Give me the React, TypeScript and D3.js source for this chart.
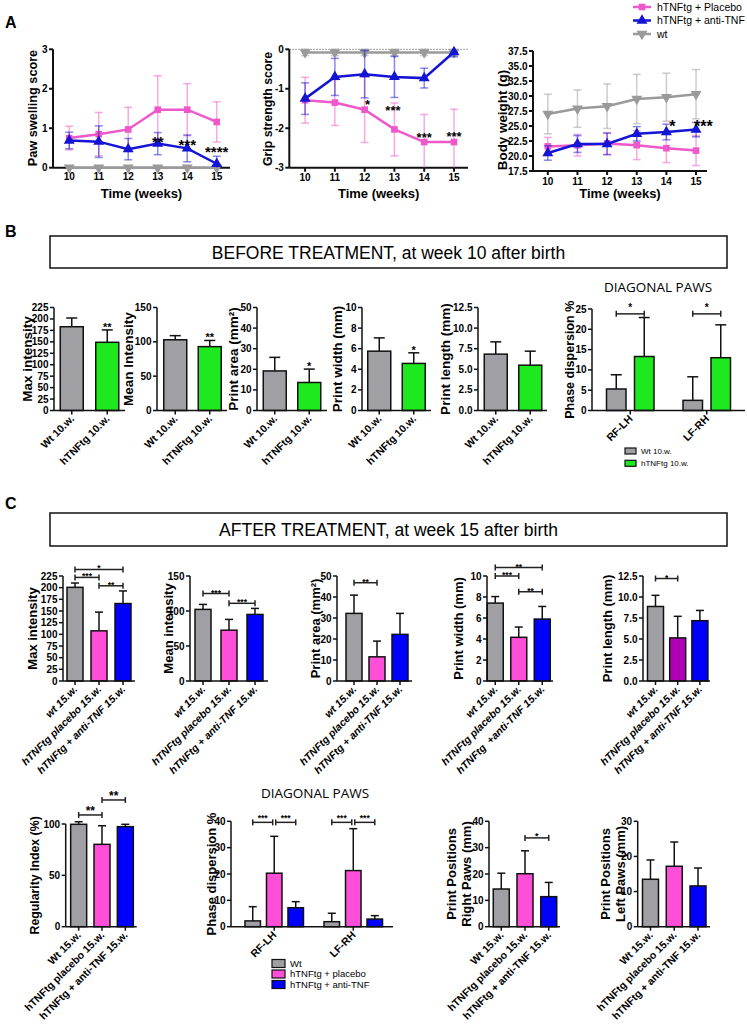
import React from "react";
import * as d3 from "d3";

const FONT = "'Liberation Sans', Arial, Helvetica, sans-serif";
const INK = "#111";
const PINK_LINE = "#EE58CB";
const BLUE_LINE = "#1414D4";
const GRAY_LINE = "#9A9A9A";
const GRAY = "#A0A0A4";
const GREEN = "#1EE81E";
const PINK = "#FF4FD8";
const BLUE = "#0000FF";
const PURPLE = "#B000B6";

// ---------- panel A: time course ----------
const weeks = [10, 11, 12, 13, 14, 15];
const lineLegend = ["hTNFtg + Placebo", "hTNFtg + anti-TNF", "wt"];

const pawPlacebo = [0.75, 0.85, 0.97, 1.47, 1.47, 1.16];
const pawPlaceboErr = [0.3, 0.55, 0.56, 0.86, 0.66, 0.51];
const pawAnti = [0.69, 0.66, 0.47, 0.61, 0.49, 0.1];
const pawAntiErr = [0.21, 0.4, 0.27, 0.28, 0.34, 0.19];
const pawWt = [0, 0, 0, 0, 0, 0];
const pawWtErr = [0, 0, 0, 0, 0, 0];
const pawSigWeeks = [13, 14, 15];
const pawSigAt = [0.53, 0.46, 0.28];
const pawSigLabels = ["**", "***", "****"];

const gripPlacebo = [-1.29, -1.35, -1.53, -2.03, -2.35, -2.35];
const gripPlaceboErr = [0.58, 0.58, 0.83, 0.67, 0.7, 0.83];
const gripAnti = [-1.25, -0.7, -0.63, -0.7, -0.73, -0.07];
const gripAntiErr = [0.4, 0.47, 0.6, 0.52, 0.25, 0.12];
const gripWt = [-0.08, -0.08, -0.08, -0.08, -0.08, -0.08];
const gripWtErr = [0.08, 0.08, 0.08, 0.08, 0.08, 0.08];
const gripSigWeeks = [12.1, 12.95, 14, 15];
const gripSigAt = [-1.51, -1.67, -2.36, -2.33];
const gripSigLabels = ["*", "***", "***", "***"];

const weightPlacebo = [21.6, 21.8, 22.1, 21.8, 21.3, 20.9];
const weightPlaceboErr = [1.5, 1.8, 1.8, 2.4, 2.4, 2.5];
const weightAnti = [20.5, 22.0, 22.0, 23.7, 24.0, 24.4];
const weightAntiErr = [1.2, 1.4, 1.8, 1.2, 1.3, 1.2];
const weightWt = [27.0, 27.9, 28.3, 29.5, 29.8, 30.3];
const weightWtErr = [3.3, 3.1, 3.7, 4.1, 4.0, 4.1];
const weightSigWeeks = [14.2, 15.25];
const weightSigAt = [24.0, 24.0];
const weightSigLabels = ["*", "***"];

// ---------- panel B: before treatment ----------
const beforeGroups = ["Wt 10.w.", "hTNFtg 10.w."];
const beforeMaxIntensity = [183, 149];
const beforeMaxIntensityErr = [19, 27];
const beforeMeanIntensity = [103, 93];
const beforeMeanIntensityErr = [6, 9];
const beforePrintArea = [19.2, 13.6];
const beforePrintAreaErr = [6.6, 6.5];
const beforePrintWidth = [5.76, 4.57];
const beforePrintWidthErr = [1.29, 1.03];
const beforePrintLength = [6.84, 5.5];
const beforePrintLengthErr = [1.49, 1.7];
const beforeStarsMax = ["", "**"];
const beforeStarsMean = ["", "**"];
const beforeStarsArea = ["", "*"];
const beforeStarsWidth = ["", "*"];

const diagonalPairs = ["RF-LH", "LF-RH"];
const beforeDiagWt = [5.3, 2.5];
const beforeDiagWtErr = [3.5, 5.8];
const beforeDiagTg = [13.3, 13.0];
const beforeDiagTgErr = [9.6, 8.1];
const beforeDiagBrackets: [number, number, number, number, string][] = [
  [0, 0, 1, 23.8, "*"],
  [1, 0, 1, 23.8, "*"],
];

// ---------- panel C: after treatment ----------
const afterGroups = ["wt 15.w.", "hTNFtg placebo 15.w.", "hTNFtg + anti-TNF 15.w."];
const afterGroupsWidth = ["wt 15.w.", "hTNFtg placebo 15.w.", "hTNFtg  +anti-TNF 15.w."];
const afterGroupsRow2 = ["Wt 15.w.", "hTNFtg placebo 15.w.", "hTNFtg + anti-TNF 15.w."];

const afterMaxIntensity = [200.7, 107.5, 166];
const afterMaxIntensityErr = [9.3, 40.1, 27];
const afterMaxBrackets: [number, number, number, string][] = [
  [0, 2, 239, "*"], [0, 1, 222, "***"], [1, 2, 204, "**"],
];
const afterMeanIntensity = [102.3, 72.6, 95.1];
const afterMeanIntensityErr = [7.1, 15.4, 8.6];
const afterMeanBrackets: [number, number, number, string][] = [
  [0, 1, 125, "***"], [1, 2, 111, "***"],
];
const afterPrintArea = [32.2, 11.5, 22.2];
const afterPrintAreaErr = [8.7, 7.5, 10];
const afterAreaBrackets: [number, number, number, string][] = [[0, 1, 46.8, "**"]];
const afterPrintWidth = [7.42, 4.16, 5.9];
const afterPrintWidthErr = [0.62, 0.98, 1.2];
const afterWidthBrackets: [number, number, number, string][] = [
  [0, 2, 10.8, "**"], [0, 1, 10.0, "***"], [1, 2, 8.5, "**"],
];
const afterPrintLength = [8.87, 5.13, 7.18];
const afterPrintLengthErr = [1.33, 2.57, 1.22];
const afterLengthBrackets: [number, number, number, string][] = [[0, 1, 12.2, "*"]];

const afterRegularity = [99.7, 80.2, 97.4];
const afterRegularityErr = [2.5, 18.1, 2.3];
const afterRegularityBrackets: [number, number, number, string][] = [
  [0, 1, 108.8, "**"], [1, 2, 123.4, "**"],
];
const afterDiagWt = [2.2, 1.9];
const afterDiagWtErr = [5.4, 3.2];
const afterDiagPlacebo = [20.3, 21.3];
const afterDiagPlaceboErr = [14.0, 15.9];
const afterDiagAnti = [7.2, 2.9];
const afterDiagAntiErr = [2.3, 1.3];
const afterDiagBrackets: [number, number, number, number, string][] = [
  [0, 0, 1, 39.6, "***"], [0, 1, 2, 39.6, "***"],
  [1, 0, 1, 39.6, "***"], [1, 1, 2, 39.6, "***"],
];
const afterRightPaws = [14.3, 20.1, 11.4];
const afterRightPawsErr = [6.0, 8.7, 5.4];
const afterRightBrackets: [number, number, number, string][] = [[1, 2, 33.7, "*"]];
const afterLeftPaws = [13.5, 17.2, 11.6];
const afterLeftPawsErr = [5.5, 6.9, 5.1];

const beforeLegend = ["Wt 10.w.", "hTNFtg 10.w."];
const afterLegend = ["Wt", "hTNFtg + placebo", "hTNFtg + anti-TNF"];

// ---------- helpers ----------
const range = (a: number, b: number, s: number) => d3.range(a, b + s / 2, s);
const fmtInt = (d: number) => String(Math.round(d));
const fmt1 = d3.format(".1f");

function YAxis({ x, y, ticks, fmt, w = 1.5 }: any) {
  const y0 = y(ticks[0]);
  const y1 = y(ticks[ticks.length - 1]);
  return (
    <g>
      <line x1={x} x2={x} y1={y1} y2={y0} stroke={INK} strokeWidth={w} />
      {ticks.map((t: number) => (
        <g key={t}>
          <line x1={x - 4} x2={x} y1={y(t)} y2={y(t)} stroke={INK} strokeWidth={w} />
          <text x={x - 5.5} y={y(t)} dy="0.35em" textAnchor="end" fontSize={10} fontWeight="bold">
            {fmt(t)}
          </text>
        </g>
      ))}
    </g>
  );
}

function YLabel({ lines, xs, cy, size }: any) {
  return (
    <g>
      {lines.map((l: string, i: number) => (
        <text
          key={i}
          transform={`translate(${xs[i]},${cy}) rotate(-90)`}
          dy="0.35em"
          textAnchor="middle"
          fontSize={size}
          fontWeight="bold"
        >
          {l}
        </text>
      ))}
    </g>
  );
}

function symbolPath(kind: string) {
  if (kind === "square") return d3.symbol().type(d3.symbolSquare).size(44)()!;
  return d3.symbol().type(d3.symbolTriangle).size(52)()!;
}

function LineChart({ c }: any) {
  const x = d3.scaleLinear().domain(c.xDomain).range([c.ax, c.axEnd]);
  const y = d3.scaleLinear().domain(c.yDomain).range([c.yBot, c.yTop]);
  const cl = (v: number) => y(Math.max(c.yDomain[0], Math.min(c.yDomain[1], v)));
  const line = d3.line<number>().x((_, i) => x(weeks[i])).y((d) => y(d));
  return (
    <g>
      {c.zeroLine && (
        <line x1={c.ax} x2={c.axEnd} y1={y(0)} y2={y(0)} stroke="#9a9a9a" strokeWidth={1.3} strokeDasharray="1.5 1.5" />
      )}
      <YAxis x={c.ax} y={y} ticks={c.ticks} fmt={c.fmt} w={2} />
      <line x1={c.ax} x2={c.axEnd} y1={c.yBot} y2={c.yBot} stroke={INK} strokeWidth={2} />
      {weeks.map((w) => (
        <g key={w}>
          <line x1={x(w)} x2={x(w)} y1={c.yBot} y2={c.yBot + 4} stroke={INK} strokeWidth={2} />
          <text x={x(w)} y={c.tickBase} textAnchor="middle" fontSize={10} fontWeight="bold">
            {w}
          </text>
        </g>
      ))}
      {c.series.map((s: any, si: number) => (
        <g key={si}>
          {s.v.map((v: number, i: number) =>
            s.e[i] > 0 ? (
              <g key={i} stroke={s.color} strokeOpacity={0.5} strokeWidth={1.5}>
                <line x1={x(weeks[i])} x2={x(weeks[i])} y1={cl(v - s.e[i])} y2={cl(v + s.e[i])} />
                {v + s.e[i] <= c.yDomain[1] && (
                  <line x1={x(weeks[i]) - 4} x2={x(weeks[i]) + 4} y1={y(v + s.e[i])} y2={y(v + s.e[i])} />
                )}
                {v - s.e[i] >= c.yDomain[0] && (
                  <line x1={x(weeks[i]) - 4} x2={x(weeks[i]) + 4} y1={y(v - s.e[i])} y2={y(v - s.e[i])} />
                )}
              </g>
            ) : null
          )}
          <path d={line(s.v)!} fill="none" stroke={s.color} strokeWidth={2.5} />
          {s.v.map((v: number, i: number) => (
            <path
              key={i}
              d={symbolPath(s.sym)}
              transform={`translate(${x(weeks[i])},${y(v)})${s.sym === "down" ? " rotate(180)" : ""}`}
              fill={s.color}
            />
          ))}
        </g>
      ))}
      {c.sigWeeks.map((w: number, i: number) => (
        <text key={i} x={x(w)} y={y(c.sigAt[i])} textAnchor="middle" fontSize={c.sigSize} fontWeight="bold">
          {c.sigLabels[i]}
        </text>
      ))}
      <YLabel lines={[c.label]} xs={[c.labelX]} cy={c.labelCy} size={c.labelSize} />
      <text x={(c.ax + c.axEnd) / 2} y={198} textAnchor="middle" fontSize={13} fontWeight="bold">
        Time (weeks)
      </text>
    </g>
  );
}

function Bracket({ x1, x2, yv, label, size, dy }: any) {
  return (
    <g>
      <line x1={x1} x2={x2} y1={yv} y2={yv} stroke="#222" strokeWidth={1.5} />
      <line x1={x1} x2={x1} y1={yv - 3} y2={yv + 3} stroke="#222" strokeWidth={1.5} />
      <line x1={x2} x2={x2} y1={yv - 3} y2={yv + 3} stroke="#222" strokeWidth={1.5} />
      <text x={(x1 + x2) / 2} y={yv + dy} textAnchor="middle" fontSize={size} fontWeight="bold">
        {label}
      </text>
    </g>
  );
}

function XLabels({ xs, labels, yBot, italic }: any) {
  return (
    <g>
      {labels.map((l: string, i: number) => (
        <text
          key={i}
          transform={`translate(${xs[i] + 3},${yBot + 9}) rotate(-45)`}
          textAnchor="end"
          fontSize={10.5}
          fontWeight="bold"
          fontStyle={italic ? "italic" : "normal"}
          style={{ whiteSpace: "pre" }}
        >
          {l}
        </text>
      ))}
    </g>
  );
}

function BarChart({ c }: any) {
  const y = d3.scaleLinear().domain([0, c.max]).range([c.yBot, c.yTop]);
  const idx = d3.range(c.values.length);
  const x = d3.scalePoint<number>().domain(idx).range(c.band).padding(0.5);
  const xs = idx.map((i) => x(i)!);
  return (
    <g>
      {c.values.map((v: number, i: number) => {
        const top = y(v);
        const et = y(v + c.errs[i]);
        return (
          <g key={i}>
            <line x1={xs[i]} x2={xs[i]} y1={top} y2={et} stroke={INK} strokeWidth={1.5} />
            <line x1={xs[i] - c.capW / 2} x2={xs[i] + c.capW / 2} y1={et} y2={et} stroke={INK} strokeWidth={1.5} />
            <rect x={xs[i] - c.barW / 2} y={top} width={c.barW} height={c.yBot - top} fill={c.colors[i]} stroke={INK} strokeWidth={1.5} />
            {c.stars && c.stars[i] && (
              <text x={xs[i]} y={et + 1} textAnchor="middle" fontSize={11} fontWeight="bold">
                {c.stars[i]}
              </text>
            )}
          </g>
        );
      })}
      <YAxis x={c.ax} y={y} ticks={c.ticks} fmt={c.fmt} />
      <line x1={c.ax} x2={c.axEnd} y1={c.yBot} y2={c.yBot} stroke={INK} strokeWidth={1.5} />
      {xs.map((px, i) => (
        <line key={i} x1={px} x2={px} y1={c.yBot} y2={c.yBot + 4} stroke={INK} strokeWidth={1.5} />
      ))}
      {(c.brackets || []).map((b: any, k: number) => (
        <Bracket key={k} x1={xs[b[0]]} x2={xs[b[1]]} yv={y(b[2])} label={b[3]} size={c.bSize} dy={c.bDy} />
      ))}
      <XLabels xs={xs} labels={c.labels} yBot={c.yBot} italic={c.italic} />
      <YLabel lines={c.ylabel} xs={c.labelX} cy={(c.yTop + c.yBot) / 2} size={c.labelSize} />
    </g>
  );
}

function GroupChart({ c }: any) {
  const y = d3.scaleLinear().domain([0, c.max]).range([c.yBot, c.yTop]);
  const x = d3.scalePoint<string>().domain(c.groups).range(c.band).padding(0.5);
  const bx = (g: number, s: number) => x(c.groups[g])! + c.offsets[s];
  return (
    <g>
      {c.groups.map((g: string, gi: number) =>
        c.series.map((ser: number[], si: number) => {
          const cx = bx(gi, si);
          const top = y(ser[gi]);
          const et = y(ser[gi] + c.errs[si][gi]);
          return (
            <g key={g + si}>
              <line x1={cx} x2={cx} y1={top} y2={et} stroke={INK} strokeWidth={1.5} />
              <line x1={cx - c.capW / 2} x2={cx + c.capW / 2} y1={et} y2={et} stroke={INK} strokeWidth={1.5} />
              <rect x={cx - c.barW / 2} y={top} width={c.barW} height={c.yBot - top} fill={c.colors[si]} stroke={INK} strokeWidth={1.5} />
            </g>
          );
        })
      )}
      <YAxis x={c.ax} y={y} ticks={c.ticks} fmt={fmtInt} />
      <line x1={c.ax} x2={c.axEnd} y1={c.yBot} y2={c.yBot} stroke={INK} strokeWidth={1.5} />
      {c.groups.map((g: string) => (
        <line key={g} x1={x(g)!} x2={x(g)!} y1={c.yBot} y2={c.yBot + 4} stroke={INK} strokeWidth={1.5} />
      ))}
      {c.brackets.map((b: any, k: number) => {
        const gap = c.series.length > 2 ? 1.5 : 0;
        return (
          <Bracket
            key={k}
            x1={bx(b[0], b[1]) + (b[1] > 0 ? gap : 0)}
            x2={bx(b[0], b[2]) - (b[2] < c.series.length - 1 ? gap : 0)}
            yv={y(b[3])}
            label={b[4]}
            size={c.bSize}
            dy={c.bDy}
          />
        );
      })}
      <XLabels xs={c.groups.map((g: string) => x(g)!)} labels={c.groups} yBot={c.yBot} />
      <YLabel lines={[c.ylabel]} xs={[c.labelX]} cy={(c.yTop + c.yBot) / 2} size={c.labelSize} />
      <text x={c.titleX} y={c.titleY} textAnchor="middle" fontSize={13.5} fontFamily="'Open Sans', 'Noto Sans', sans-serif">
        DIAGONAL PAWS
      </text>
      {c.legend.map((l: string, i: number) => (
        <g key={l}>
          <rect x={c.legX} y={c.legY + i * c.legDy - c.legH / 2} width={c.legW} height={c.legH} fill={c.colors[i]} stroke={INK} strokeWidth={1.2} />
          <text x={c.legX + c.legW + 5} y={c.legY + i * c.legDy} dy="0.35em" fontSize={c.legSize}>
            {l}
          </text>
        </g>
      ))}
    </g>
  );
}

function Header({ y, h, text }: any) {
  return (
    <g>
      <rect x={50} y={y} width={677} height={h} fill="none" stroke={INK} strokeWidth={1.5} />
      <text x={388.5} y={y + 22.5} textAnchor="middle" fontSize={17.5}>
        {text}
      </text>
    </g>
  );
}

export default function App() {
  const lineCharts = [
    {
      ax: 53, axEnd: 230, xDomain: [9.45, 15.45], yTop: 49.3, yBot: 167.7, yDomain: [0, 3],
      ticks: [0, 1, 2, 3], fmt: fmtInt, label: "Paw swelling score", labelX: 33, labelCy: 108, labelSize: 12.7,
      tickBase: 180,
      sigWeeks: pawSigWeeks, sigAt: pawSigAt, sigLabels: pawSigLabels, sigSize: 15,
      series: [
        { v: pawWt, e: pawWtErr, color: GRAY_LINE, sym: "down" },
        { v: pawPlacebo, e: pawPlaceboErr, color: PINK_LINE, sym: "square" },
        { v: pawAnti, e: pawAntiErr, color: BLUE_LINE, sym: "up" },
      ],
    },
    {
      ax: 289.3, axEnd: 468, xDomain: [9.47, 15.47], yTop: 49.3, yBot: 167.7, yDomain: [-3, 0],
      ticks: [-3, -2, -1, 0], fmt: fmtInt, label: "Grip strength score", labelX: 268, labelCy: 109, labelSize: 12.3,
      tickBase: 180.5, zeroLine: true,
      sigWeeks: gripSigWeeks, sigAt: gripSigAt, sigLabels: gripSigLabels, sigSize: 13,
      series: [
        { v: gripWt, e: gripWtErr, color: GRAY_LINE, sym: "down" },
        { v: gripPlacebo, e: gripPlaceboErr, color: PINK_LINE, sym: "square" },
        { v: gripAnti, e: gripAntiErr, color: BLUE_LINE, sym: "up" },
      ],
    },
    {
      ax: 533, axEnd: 707, xDomain: [9.5, 15.37], yTop: 51, yBot: 171, yDomain: [17.5, 37.5],
      ticks: range(17.5, 37.5, 2.5), fmt: fmt1, label: "Body weight (g)", labelX: 502, labelCy: 120, labelSize: 13.4,
      tickBase: 185,
      sigWeeks: weightSigWeeks, sigAt: weightSigAt, sigLabels: weightSigLabels, sigSize: 16,
      series: [
        { v: weightWt, e: weightWtErr, color: GRAY_LINE, sym: "down" },
        { v: weightPlacebo, e: weightPlaceboErr, color: PINK_LINE, sym: "square" },
        { v: weightAnti, e: weightAntiErr, color: BLUE_LINE, sym: "up" },
      ],
    },
  ];

  const B = { yTop: 307.5, yBot: 410.5, barW: 23, capW: 11, labelSize: 13.5, labels: beforeGroups, colors: [GRAY, GREEN] };
  const beforeCharts = [
    { ...B, ax: 54, axEnd: 125, band: [54, 125], max: 225, ticks: range(0, 225, 25), fmt: fmtInt,
      values: beforeMaxIntensity, errs: beforeMaxIntensityErr, stars: beforeStarsMax, ylabel: ["Max intensity"], labelX: [27] },
    { ...B, ax: 157, axEnd: 227, band: [158, 227], max: 150, ticks: [0, 50, 100, 150], fmt: fmtInt,
      values: beforeMeanIntensity, errs: beforeMeanIntensityErr, stars: beforeStarsMean, ylabel: ["Mean Intensity"], labelX: [128] },
    { ...B, ax: 257, axEnd: 327, band: [257.5, 326.5], max: 50, ticks: range(0, 50, 10), fmt: fmtInt,
      values: beforePrintArea, errs: beforePrintAreaErr, stars: beforeStarsArea, ylabel: ["Print area (mm\u00b2)"], labelX: [233] },
    { ...B, ax: 362, axEnd: 431, band: [362, 431], max: 10, ticks: range(0, 10, 2), fmt: fmtInt,
      values: beforePrintWidth, errs: beforePrintWidthErr, stars: beforeStarsWidth, ylabel: ["Print width (mm)"], labelX: [337] },
    { ...B, ax: 478, axEnd: 547, band: [478.5, 547.5], max: 12.5, ticks: range(0, 12.5, 2.5), fmt: fmt1,
      values: beforePrintLength, errs: beforePrintLengthErr, ylabel: ["Print length (mm)"], labelX: [445] },
  ];

  const beforeDiag = {
    groups: diagonalPairs, series: [beforeDiagWt, beforeDiagTg], errs: [beforeDiagWtErr, beforeDiagTgErr],
    colors: [GRAY, GREEN], offsets: [-14, 14], barW: 19.5, capW: 11,
    ax: 592, axEnd: 745, band: [592, 745], yTop: 309, yBot: 410.5, max: 25, ticks: range(0, 25, 5),
    ylabel: "Phase dispersion %", labelX: 570, labelSize: 12.5, brackets: beforeDiagBrackets, bSize: 10, bDy: -3,
    titleX: 658, titleY: 292, legend: beforeLegend, legX: 625, legY: 451, legDy: 12.3, legW: 11, legH: 6, legSize: 8,
  };

  const C1 = { yTop: 576, yBot: 681, barW: 16, capW: 8, labelSize: 13, labels: afterGroups, italic: true,
    colors: [GRAY, PINK, BLUE], bSize: 8.5, bDy: 2 };
  const afterRow1 = [
    { ...C1, ax: 63, axEnd: 135, band: [63, 135], max: 225, ticks: range(0, 225, 25), fmt: fmtInt,
      values: afterMaxIntensity, errs: afterMaxIntensityErr, brackets: afterMaxBrackets, ylabel: ["Max intensity"], labelX: [32] },
    { ...C1, ax: 190, axEnd: 268, band: [190, 268], max: 150, ticks: [0, 50, 100, 150], fmt: fmtInt,
      values: afterMeanIntensity, errs: afterMeanIntensityErr, brackets: afterMeanBrackets, ylabel: ["Mean intensity"], labelX: [168] },
    { ...C1, ax: 337, axEnd: 412, band: [342.5, 411.5], max: 50, ticks: range(0, 50, 10), fmt: fmtInt,
      values: afterPrintArea, errs: afterPrintAreaErr, brackets: afterAreaBrackets, ylabel: ["Print area (mm\u00b2)"], labelX: [315] },
    { ...C1, ax: 487, axEnd: 553, band: [483.5, 554], max: 10, ticks: range(0, 10, 2), fmt: fmtInt, labels: afterGroupsWidth,
      values: afterPrintWidth, errs: afterPrintWidthErr, brackets: afterWidthBrackets, ylabel: ["Print width (mm)"], labelX: [458] },
    { ...C1, ax: 643, axEnd: 710, band: [644.4, 711], max: 12.5, ticks: range(0, 12.5, 2.5), fmt: fmt1,
      colors: [GRAY, PURPLE, BLUE],
      values: afterPrintLength, errs: afterPrintLengthErr, brackets: afterLengthBrackets, ylabel: ["Print length (mm)"], labelX: [607] },
  ];

  const C2 = { yBot: 926.7, barW: 16, capW: 8, labelSize: 13, labels: afterGroupsRow2, colors: [GRAY, PINK, BLUE], bSize: 9, bDy: 1 };
  const afterRow2 = [
    { ...C2, ax: 65.7, axEnd: 136.7, band: [67, 137], yTop: 824, max: 100, ticks: [0, 50, 100], fmt: fmtInt,
      values: afterRegularity, errs: afterRegularityErr, brackets: afterRegularityBrackets, bSize: 12, bDy: 0,
      ylabel: ["Regularity Index (%)"], labelX: [35], labelSize: 12.3 },
    { ...C2, ax: 489, axEnd: 560, band: [489.4, 560.6], yTop: 821.3, max: 40, ticks: range(0, 40, 10), fmt: fmtInt,
      values: afterRightPaws, errs: afterRightPawsErr, brackets: afterRightBrackets,
      ylabel: ["Print Positions", "Right Paws (mm)"], labelX: [451.7, 466] },
    { ...C2, ax: 637.7, axEnd: 710, band: [638.6, 709.9], yTop: 821.3, max: 30, ticks: range(0, 30, 10), fmt: fmtInt,
      values: afterLeftPaws, errs: afterLeftPawsErr,
      ylabel: ["Print Positions", "Left Paws (mm)"], labelX: [605, 620] },
  ];

  const afterDiag = {
    groups: diagonalPairs, series: [afterDiagWt, afterDiagPlacebo, afterDiagAnti],
    errs: [afterDiagWtErr, afterDiagPlaceboErr, afterDiagAntiErr],
    colors: [GRAY, PINK, BLUE], offsets: [-21.5, 0, 21.5], barW: 15.5, capW: 8,
    ax: 231, axEnd: 393, band: [234.7, 392.8], yTop: 821.3, yBot: 926.7, max: 40, ticks: range(0, 40, 10),
    ylabel: "Phase dispersion %", labelX: 211.7, labelSize: 13, brackets: afterDiagBrackets, bSize: 8.5, bDy: -1,
    titleX: 315, titleY: 798.3, legend: afterLegend, legX: 272, legY: 963.5, legDy: 10.5, legW: 13, legH: 8, legSize: 9.5,
  };

  return (
    <svg
      width={747}
      height={1025}
      style={{ position: "absolute", left: 0, top: 0, background: "#fff" }}
      fontFamily={FONT}
    >
      <rect width={747} height={1025} fill="#fff" />
      <text x={5} y={28} fontSize={16} fontWeight="bold">A</text>
      <text x={5} y={237} fontSize={16} fontWeight="bold">B</text>
      <text x={5} y={509} fontSize={16} fontWeight="bold">C</text>

      {lineCharts.map((c, i) => (
        <LineChart key={i} c={c} />
      ))}
      {lineLegend.map((l, i) => {
        const col = [PINK_LINE, BLUE_LINE, GRAY_LINE][i];
        const sym = ["square", "up", "down"][i];
        const yy = 7 + i * 13.5;
        return (
          <g key={l}>
            <line x1={633} x2={651} y1={yy} y2={yy} stroke={col} strokeWidth={2.5} />
            <path d={symbolPath(sym)} transform={`translate(642,${yy})${sym === "down" ? " rotate(180)" : ""}`} fill={col} />
            <text x={657} y={yy} dy="0.35em" fontSize={10.5}>{l}</text>
          </g>
        );
      })}

      <Header y={236} h={32} text="BEFORE TREATMENT, at week 10 after birth" />
      {beforeCharts.map((c, i) => (
        <BarChart key={i} c={c} />
      ))}
      <GroupChart c={beforeDiag} />

      <Header y={513} h={33} text="AFTER TREATMENT, at week 15 after birth" />
      {afterRow1.map((c, i) => (
        <BarChart key={i} c={c} />
      ))}
      {afterRow2.map((c, i) => (
        <BarChart key={i} c={c} />
      ))}
      <GroupChart c={afterDiag} />
    </svg>
  );
}
